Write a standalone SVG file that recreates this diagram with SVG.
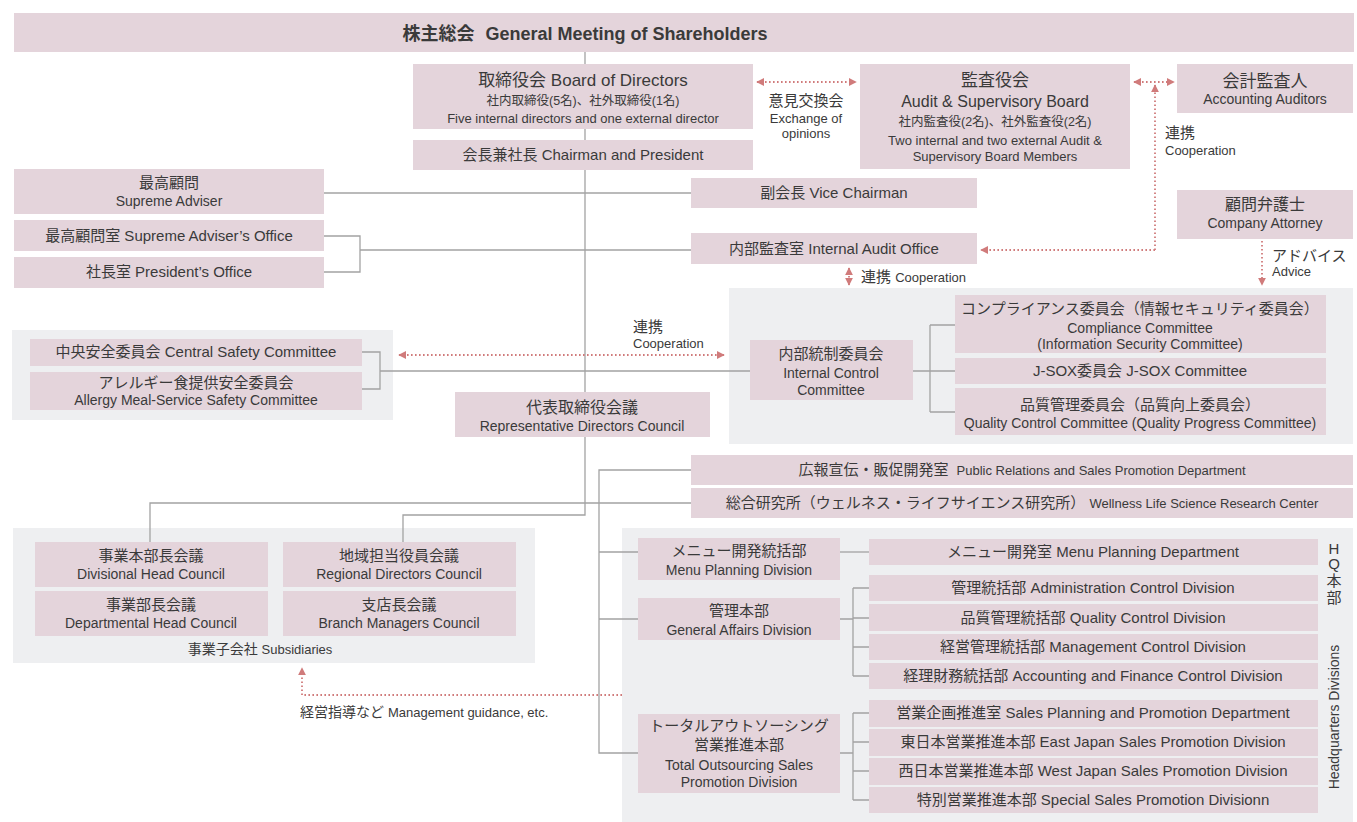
<svg xmlns="http://www.w3.org/2000/svg" width="1357" height="822" viewBox="0 0 1357 822">
<defs>
<style>
.b{fill:#e4d4db}
.p{fill:#eeeff1}
.l{fill:none;stroke:#a3a3a3;stroke-width:1.3}
.d{fill:none;stroke:#d07b7b;stroke-width:1.8;stroke-dasharray:1.6 2.4}
text{font-family:'Liberation Sans Narrow','Liberation Sans','Noto Sans CJK JP',sans-serif;fill:#3a3a3a;font-size:15px;text-anchor:middle}
.s{font-size:13px}
.xs{font-size:12.5px}
.m{font-size:14px}
.st{text-anchor:start}
.v{font-family:'Liberation Sans','Noto Sans CJK JP',sans-serif;font-size:15px}
</style>
<marker id="ah" viewBox="0 0 10 10" refX="9" refY="5" markerWidth="4.5" markerHeight="4.5" orient="auto-start-reverse" markerUnits="strokeWidth">
<path d="M0,0 L10,5 L0,10 Z" fill="#d07b7b"/>
</marker>
</defs>
<rect width="1357" height="822" fill="#ffffff"/>

<g id="panels">
<rect class="p" x="729" y="288" width="624" height="156"/>
<rect class="p" x="12" y="330" width="381" height="90"/>
<rect class="p" x="13" y="528" width="522" height="135"/>
<rect class="p" x="622" y="528" width="731" height="294"/>
</g>

<g id="connectors">
<path class="l" d="M585,52 V515 H403 V542"/>
<path class="l" d="M324,193 H691"/>
<path class="l" d="M324,236 H360 V272 H324 M360,250 H691"/>
<path class="l" d="M362,352 H380 V389 H362 M380,371 H750"/>
<path class="l" d="M913,371 H955 M930,325 V412 M930,325 H955 M930,412 H955"/>
<path class="l" d="M150,542 V503 H691"/>
<path class="l" d="M691,470 H599 V753 H638 M599,552 H638 M599,619 H638"/>
<path class="l" d="M840,552 H869"/>
<path class="l" d="M840,619 H853 M853,588 V676 M853,588 H869 M853,618 H869 M853,647 H869 M853,676 H869"/>
<path class="l" d="M840,753 H853 M853,713 V800 M853,713 H869 M853,742 H869 M853,771 H869 M853,800 H869"/>
<path class="d" d="M757,82 H856" marker-start="url(#ah)" marker-end="url(#ah)"/>
<path class="d" d="M1134,82 H1174" marker-start="url(#ah)" marker-end="url(#ah)"/>
<path class="d" d="M1155,250 V85" marker-end="url(#ah)"/>
<path class="d" d="M1155,250 H981" marker-end="url(#ah)"/>
<path class="d" d="M849,268 V285" marker-start="url(#ah)" marker-end="url(#ah)"/>
<path class="d" d="M1262,241 V285" marker-end="url(#ah)"/>
<path class="d" d="M399,355 H724" marker-start="url(#ah)" marker-end="url(#ah)"/>
<path class="d" d="M622,695 H302 V668" marker-end="url(#ah)"/>
</g>

<g id="shareholders">
<rect class="b" x="14" y="13" width="1340" height="39"/>
<text x="585" y="40" style="font-size:18px;font-weight:bold">株主総会 <tspan dx="6">General Meeting of Shareholders</tspan></text>
</g>

<g id="board">
<rect class="b" x="413" y="64" width="340" height="65"/>
<text x="583" y="86" style="font-size:17px">取締役会 Board of Directors</text>
<text x="583" y="105" class="xs">社内取締役(5名)、社外取締役(1名)</text>
<text x="583" y="123" class="s">Five internal directors and one external director</text>
</g>

<g id="chairman">
<rect class="b" x="413" y="140" width="340" height="30"/>
<text x="583" y="160">会長兼社長 Chairman and President</text>
</g>

<g id="exchange-label">
<text x="806" y="106">意見交換会</text>
<text x="806" y="123" class="s">Exchange of</text>
<text x="806" y="138" class="s">opinions</text>
</g>

<g id="audit-board">
<rect class="b" x="860" y="64" width="270" height="105"/>
<text x="995" y="86" style="font-size:17px">監査役会</text>
<text x="995" y="107" style="font-size:16px">Audit &amp; Supervisory Board</text>
<text x="995" y="126" class="xs">社内監査役(2名)、社外監査役(2名)</text>
<text x="995" y="145" class="s">Two internal and two external Audit &amp;</text>
<text x="995" y="161" class="s">Supervisory Board Members</text>
</g>

<g id="accounting-auditors">
<rect class="b" x="1177" y="64" width="176" height="49"/>
<text x="1265" y="87" style="font-size:17px">会計監査人</text>
<text x="1265" y="104" class="m">Accounting Auditors</text>
</g>

<g id="coop-label-1">
<text x="1165" y="138" class="st">連携</text>
<text x="1165" y="155" class="s st">Cooperation</text>
</g>

<g id="supreme-adviser">
<rect class="b" x="14" y="169" width="310" height="45"/>
<text x="169" y="188">最高顧問</text>
<text x="169" y="206" class="m">Supreme Adviser</text>
</g>

<g id="supreme-adviser-office">
<rect class="b" x="14" y="220" width="310" height="31"/>
<text x="169" y="241">最高顧問室 Supreme Adviser’s Office</text>
</g>

<g id="presidents-office">
<rect class="b" x="14" y="257" width="310" height="31"/>
<text x="169" y="277">社長室 President’s Office</text>
</g>

<g id="vice-chairman">
<rect class="b" x="691" y="178" width="286" height="30"/>
<text x="834" y="198">副会長 Vice Chairman</text>
</g>

<g id="internal-audit">
<rect class="b" x="691" y="233" width="286" height="31"/>
<text x="834" y="254">内部監査室 Internal Audit Office</text>
</g>

<g id="coop-label-2">
<text x="861" y="282" class="st">連携 <tspan class="s">Cooperation</tspan></text>
</g>

<g id="attorney">
<rect class="b" x="1177" y="190" width="176" height="49"/>
<text x="1265" y="210" style="font-size:16px">顧問弁護士</text>
<text x="1265" y="228" class="m">Company Attorney</text>
</g>

<g id="advice-label">
<text x="1272" y="261" class="st">アドバイス</text>
<text x="1272" y="276" class="s st">Advice</text>
</g>

<g id="internal-control">
<rect class="b" x="750" y="340" width="163" height="60"/>
<text x="831" y="359">内部統制委員会</text>
<text x="831" y="378" class="m">Internal Control</text>
<text x="831" y="395" class="m">Committee</text>
</g>

<g id="compliance">
<rect class="b" x="955" y="295" width="371" height="58"/>
<text x="1140" y="314">コンプライアンス委員会（情報セキュリティ委員会）</text>
<text x="1140" y="333" class="m">Compliance Committee</text>
<text x="1140" y="349" class="m">(Information Security Committee)</text>
</g>

<g id="jsox">
<rect class="b" x="955" y="358" width="371" height="26"/>
<text x="1140" y="376">J-SOX委員会 J-SOX Committee</text>
</g>

<g id="quality-committee">
<rect class="b" x="955" y="388" width="371" height="47"/>
<text x="1140" y="410">品質管理委員会（品質向上委員会）</text>
<text x="1140" y="428" class="m">Quality Control Committee (Quality Progress Committee)</text>
</g>

<g id="central-safety">
<rect class="b" x="30" y="339" width="332" height="27"/>
<text x="196" y="357">中央安全委員会 Central Safety Committee</text>
</g>

<g id="allergy-safety">
<rect class="b" x="30" y="372" width="332" height="38"/>
<text x="196" y="388">アレルギー食提供安全委員会</text>
<text x="196" y="405" class="m">Allergy Meal-Service Safety Committee</text>
</g>

<g id="coop-label-3">
<text x="633" y="332" class="st">連携</text>
<text x="633" y="348" class="s st">Cooperation</text>
</g>

<g id="rep-directors">
<rect class="b" x="455" y="392" width="255" height="45"/>
<text x="582" y="413" style="font-size:16px">代表取締役会議</text>
<text x="582" y="431" class="m">Representative Directors Council</text>
</g>

<g id="pr-dept">
<rect class="b" x="691" y="455" width="662" height="30"/>
<text x="1022" y="475">広報宣伝・販促開発室 <tspan class="s" dx="4">Public Relations and Sales Promotion Department</tspan></text>
</g>

<g id="wellness">
<rect class="b" x="691" y="488" width="662" height="30"/>
<text x="1022" y="508">総合研究所（ウェルネス・ライフサイエンス研究所） <tspan class="s">Wellness Life Science Research Center</tspan></text>
</g>

<g id="divisional-head">
<rect class="b" x="35" y="542" width="233" height="45"/>
<text x="151" y="561">事業本部長会議</text>
<text x="151" y="579" class="m">Divisional Head Council</text>
</g>

<g id="regional-directors">
<rect class="b" x="283" y="542" width="233" height="45"/>
<text x="399" y="561">地域担当役員会議</text>
<text x="399" y="579" class="m">Regional Directors Council</text>
</g>

<g id="departmental-head">
<rect class="b" x="35" y="591" width="233" height="45"/>
<text x="151" y="610">事業部長会議</text>
<text x="151" y="628" class="m">Departmental Head Council</text>
</g>

<g id="branch-managers">
<rect class="b" x="283" y="591" width="233" height="45"/>
<text x="399" y="610">支店長会議</text>
<text x="399" y="628" class="m">Branch Managers Council</text>
</g>

<g id="subsidiaries-label">
<text x="260" y="654" class="m">事業子会社 <tspan class="s">Subsidiaries</tspan></text>
</g>

<g id="guidance-label">
<text x="300" y="717" class="m st">経営指導など <tspan class="s">Management guidance, etc.</tspan></text>
</g>

<g id="menu-division">
<rect class="b" x="638" y="538" width="202" height="42"/>
<text x="739" y="556">メニュー開発統括部</text>
<text x="739" y="575" class="m">Menu Planning Division</text>
</g>

<g id="menu-dept">
<rect class="b" x="869" y="539" width="449" height="26"/>
<text x="1093" y="557">メニュー開発室 Menu Planning Department</text>
</g>

<g id="general-affairs">
<rect class="b" x="638" y="598" width="202" height="42"/>
<text x="739" y="616">管理本部</text>
<text x="739" y="635" class="m">General Affairs Division</text>
</g>

<g id="admin-control">
<rect class="b" x="869" y="575" width="449" height="26"/>
<text x="1093" y="593">管理統括部 Administration Control Division</text>
</g>

<g id="qc-division">
<rect class="b" x="869" y="604" width="449" height="27"/>
<text x="1093" y="623">品質管理統括部 Quality Control Division</text>
</g>

<g id="mgmt-control">
<rect class="b" x="869" y="634" width="449" height="26"/>
<text x="1093" y="652">経営管理統括部 Management Control Division</text>
</g>

<g id="accounting-finance">
<rect class="b" x="869" y="663" width="449" height="26"/>
<text x="1093" y="681">経理財務統括部 Accounting and Finance Control Division</text>
</g>

<g id="total-outsourcing">
<rect class="b" x="638" y="714" width="202" height="79"/>
<text x="739" y="731">トータルアウトソーシング</text>
<text x="739" y="750">営業推進本部</text>
<text x="739" y="770" class="m">Total Outsourcing Sales</text>
<text x="739" y="787" class="m">Promotion Division</text>
</g>

<g id="sales-planning">
<rect class="b" x="869" y="700" width="449" height="27"/>
<text x="1093" y="718">営業企画推進室 Sales Planning and Promotion Department</text>
</g>

<g id="east-japan">
<rect class="b" x="869" y="729" width="449" height="27"/>
<text x="1093" y="747">東日本営業推進本部 East Japan Sales Promotion Division</text>
</g>

<g id="west-japan">
<rect class="b" x="869" y="758" width="449" height="27"/>
<text x="1093" y="776">西日本営業推進本部 West Japan Sales Promotion Division</text>
</g>

<g id="special-sales">
<rect class="b" x="869" y="787" width="449" height="26"/>
<text x="1093" y="805">特別営業推進本部 Special Sales Promotion Divisionn</text>
</g>

<g id="hq-label">
<text x="1334" y="554" class="v">H</text>
<text x="1334" y="569" class="v">Q</text>
<text x="1334" y="586" class="v">本</text>
<text x="1334" y="603" class="v">部</text>
<text transform="translate(1339,717) rotate(-90)" class="v" style="font-size:14px">Headquarters Divisions</text>
</g>
</svg>
